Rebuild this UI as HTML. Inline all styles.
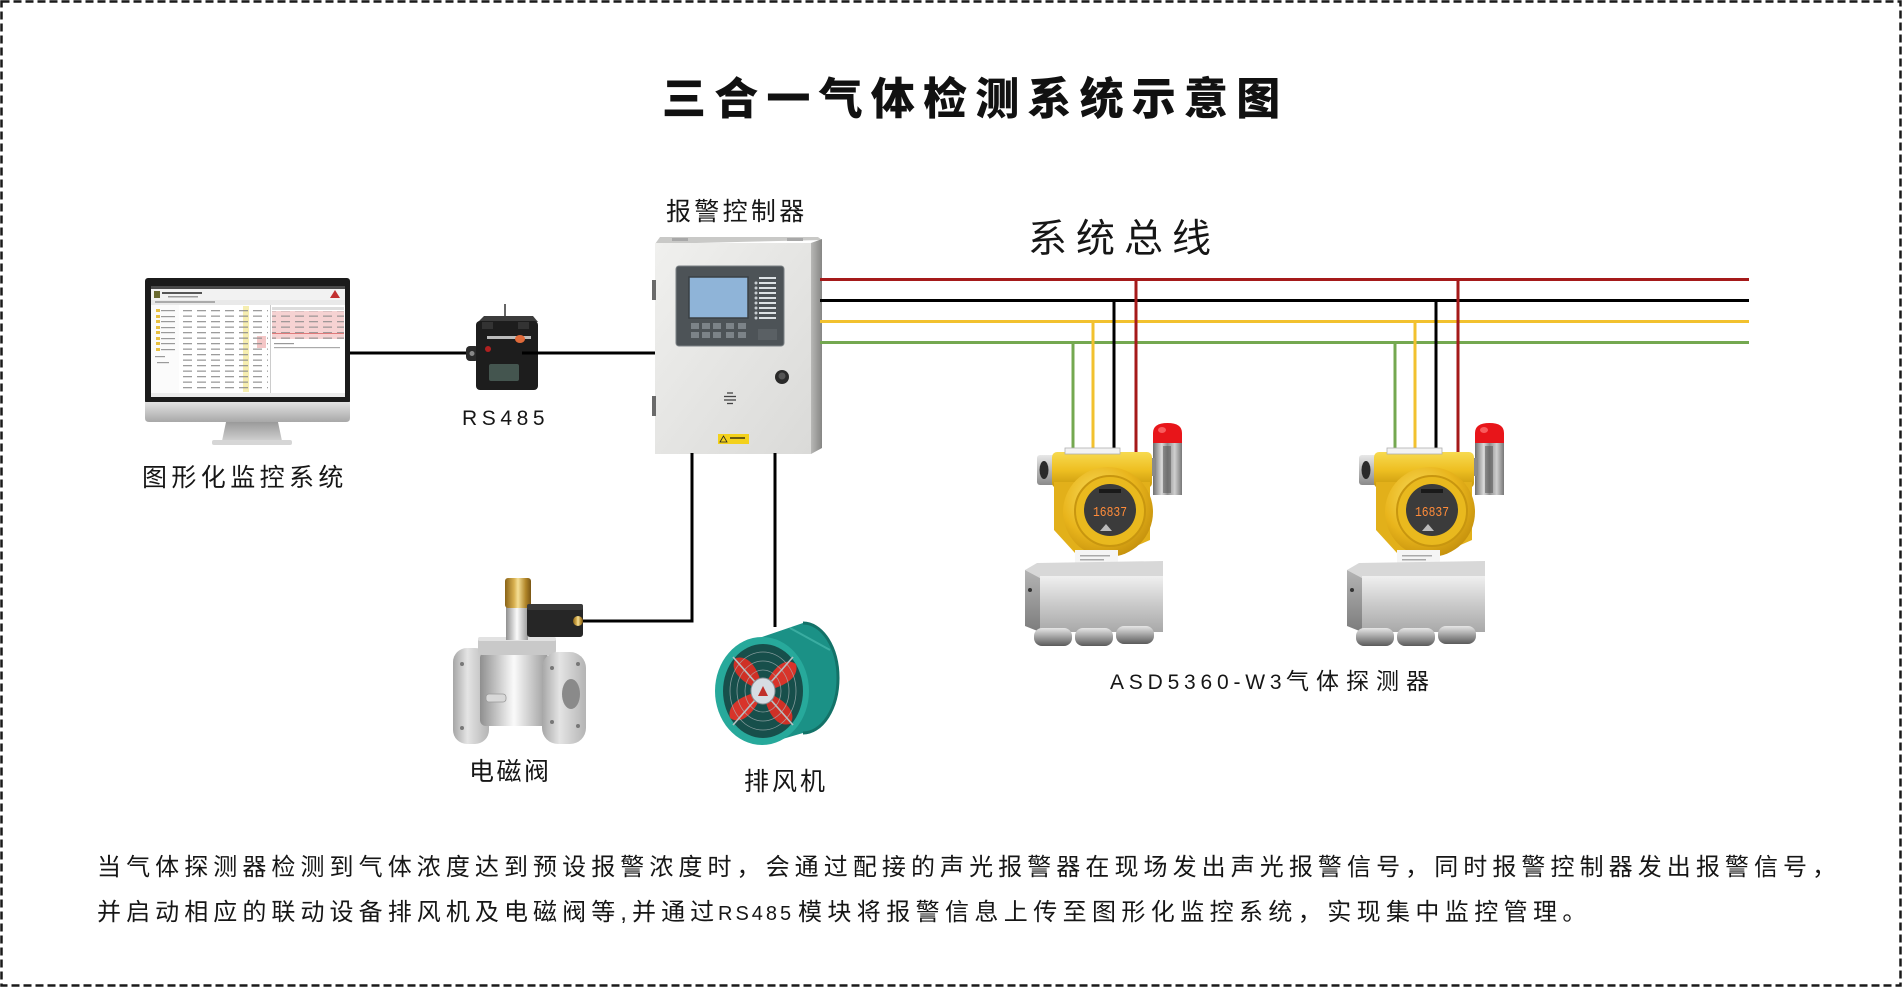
<!DOCTYPE html>
<html lang="zh">
<head>
<meta charset="utf-8">
<title>三合一气体检测系统示意图</title>
<style>
  html,body{margin:0;padding:0;background:#fff;}
  body{width:1904px;height:990px;overflow:hidden;}
  svg{display:block;}
  .cn{font-family:"Liberation Sans","Noto Sans CJK SC",sans-serif;fill:#161616;}
</style>
</head>
<body>
<svg width="1904" height="990" viewBox="0 0 1904 990" xmlns="http://www.w3.org/2000/svg">
<defs>
  <linearGradient id="gYel" x1="0" y1="0" x2="0" y2="1">
    <stop offset="0" stop-color="#f7da50"/><stop offset="0.5" stop-color="#eebf22"/><stop offset="1" stop-color="#c7970c"/>
  </linearGradient>
  <radialGradient id="gYelR" cx="0.4" cy="0.35" r="0.7">
    <stop offset="0" stop-color="#f9df62"/><stop offset="0.6" stop-color="#e9b51c"/><stop offset="1" stop-color="#c38f0c"/>
  </radialGradient>
  <linearGradient id="gPost" x1="0" y1="0" x2="1" y2="0">
    <stop offset="0" stop-color="#6f6f6f"/><stop offset="0.3" stop-color="#dadada"/><stop offset="0.5" stop-color="#8e8e8e"/><stop offset="0.75" stop-color="#cfcfcf"/><stop offset="1" stop-color="#777"/>
  </linearGradient>
  <linearGradient id="gBox" x1="0" y1="0" x2="0" y2="1">
    <stop offset="0" stop-color="#f0f0f0"/><stop offset="0.45" stop-color="#cecece"/><stop offset="1" stop-color="#a8a8a8"/>
  </linearGradient>
  <linearGradient id="gSide" x1="0" y1="0" x2="0" y2="1">
    <stop offset="0" stop-color="#b4b4b4"/><stop offset="1" stop-color="#7c7c7c"/>
  </linearGradient>
  <linearGradient id="gGland" x1="0" y1="0" x2="0" y2="1">
    <stop offset="0" stop-color="#e6e6e6"/><stop offset="0.5" stop-color="#a0a0a0"/><stop offset="1" stop-color="#5a5a5a"/>
  </linearGradient>
  <linearGradient id="gSilver" x1="0" y1="0" x2="1" y2="0">
    <stop offset="0" stop-color="#8f8f8f"/><stop offset="0.4" stop-color="#e6e6e6"/><stop offset="0.5" stop-color="#fafafa"/><stop offset="1" stop-color="#9a9a9a"/>
  </linearGradient>
  <linearGradient id="gSilverV" x1="0" y1="0" x2="0" y2="1">
    <stop offset="0" stop-color="#e8e8e8"/><stop offset="1" stop-color="#8a8a8a"/>
  </linearGradient>
  <linearGradient id="gGold" x1="0" y1="0" x2="1" y2="0">
    <stop offset="0" stop-color="#8a6418"/><stop offset="0.35" stop-color="#d8b050"/><stop offset="0.5" stop-color="#f5df96"/><stop offset="0.8" stop-color="#b08428"/><stop offset="1" stop-color="#7a5614"/>
  </linearGradient>
  <linearGradient id="gChin" x1="0" y1="0" x2="0" y2="1">
    <stop offset="0" stop-color="#e2e2e2"/><stop offset="1" stop-color="#a8a8a8"/>
  </linearGradient>
  <linearGradient id="gNeck" x1="0" y1="0" x2="0" y2="1">
    <stop offset="0" stop-color="#9a9a9a"/><stop offset="1" stop-color="#d0d0d0"/>
  </linearGradient>
  <linearGradient id="gCtrl" x1="0" y1="0" x2="1" y2="1">
    <stop offset="0" stop-color="#f0f0ee"/><stop offset="1" stop-color="#dadad8"/>
  </linearGradient>
  <linearGradient id="gCtrlSide" x1="0" y1="0" x2="1" y2="0">
    <stop offset="0" stop-color="#b8b8b6"/><stop offset="1" stop-color="#868684"/>
  </linearGradient>
  <linearGradient id="gFlange" x1="0" y1="0" x2="1" y2="0">
    <stop offset="0" stop-color="#a6a6a6"/><stop offset="0.4" stop-color="#e4e4e4"/><stop offset="1" stop-color="#b4b4b4"/>
  </linearGradient>
  <pattern id="tbl" width="14" height="5.5" patternUnits="userSpaceOnUse">
    <rect x="1" y="2" width="9" height="1.3" fill="#8a8a8a"/>
  </pattern>
</defs>

<rect width="1904" height="990" fill="#ffffff"/>
<rect x="1.5" y="1.5" width="1899" height="984" fill="none" stroke="#1a1a1a" stroke-width="2.5" stroke-dasharray="8 4"/>

<!-- Title -->
<text x="662" y="114" font-size="44" font-weight="900" letter-spacing="8.2" font-family="'Noto Sans CJK SC','Liberation Sans',sans-serif" fill="#111">三合一气体检测系统示意图</text>

<!-- Labels -->
<text class="cn" x="666" y="220" font-size="25" letter-spacing="3.3">报警控制器</text>
<text class="cn" x="1028" y="252" font-size="39" letter-spacing="9">系统总线</text>
<text class="cn" x="142" y="486" font-size="25" letter-spacing="4.4">图形化监控系统</text>
<text x="462" y="425" font-size="21" letter-spacing="4.6" font-family="'Liberation Sans',sans-serif" fill="#161616">RS485</text>
<text class="cn" x="469" y="780" font-size="25" letter-spacing="2.5">电磁阀</text>
<text class="cn" x="744" y="790" font-size="25" letter-spacing="3">排风机</text>
<text class="cn" y="689" font-size="21"><tspan x="1110" letter-spacing="4.8" font-family="'Liberation Sans',sans-serif">ASD5360-W3</tspan><tspan x="1286" font-size="23" letter-spacing="7">气体探测器</tspan></text>

<!-- Paragraph -->
<text class="cn" x="97" y="875" font-size="24" letter-spacing="5.07">当气体探测器检测到气体浓度达到预设报警浓度时，会通过配接的声光报警器在现场发出声光报警信号，同时报警控制器发出报警信号，</text>
<text class="cn" y="920" font-size="24"><tspan x="97" letter-spacing="5.07">并启动相应的联动设备排风机及电磁阀等,并通过</tspan><tspan x="718" font-size="20" letter-spacing="3">RS485</tspan><tspan x="798" letter-spacing="5.4">模块将报警信息上传至图形化监控系统，实现集中监控管理。</tspan></text>

<!-- ================= Monitor ================= -->
<rect x="145" y="278" width="205" height="126" rx="3" fill="#1b1b1b"/>
<rect x="151" y="286" width="194" height="111" fill="#ffffff"/>
<rect x="151" y="286" width="194" height="3" fill="#4a4a4a"/>
<rect x="151" y="289" width="194" height="11" fill="#f2f2f2"/>
<rect x="154" y="291" width="6" height="7" fill="#6a6a30"/>
<rect x="162" y="292" width="40" height="2" fill="#555"/>
<rect x="168" y="296" width="30" height="1.5" fill="#999"/>
<path d="M330,298 L335,290 L340,298 Z" fill="#c23030"/>
<rect x="151" y="300" width="194" height="5" fill="#e9e9e9"/>
<rect x="155" y="301" width="60" height="2" fill="#aaa"/>
<rect x="151" y="305" width="28" height="88" fill="#fbfbfb"/>
<g fill="#e8c040">
  <rect x="156" y="309" width="4" height="3"/><rect x="156" y="315" width="4" height="3"/><rect x="156" y="320" width="4" height="3"/>
  <rect x="156" y="326" width="4" height="3"/><rect x="156" y="331" width="4" height="3"/><rect x="156" y="337" width="4" height="3"/>
  <rect x="156" y="342" width="4" height="3"/><rect x="156" y="348" width="4" height="3"/>
</g>
<g fill="#9a9a9a">
  <rect x="161" y="310" width="14" height="1.2"/><rect x="161" y="316" width="14" height="1.2"/><rect x="161" y="321" width="14" height="1.2"/>
  <rect x="161" y="327" width="14" height="1.2"/><rect x="161" y="332" width="14" height="1.2"/><rect x="161" y="338" width="14" height="1.2"/>
  <rect x="161" y="343" width="14" height="1.2"/><rect x="161" y="349" width="14" height="1.2"/><rect x="155" y="356" width="10" height="1.2"/><rect x="157" y="362" width="12" height="1.2"/>
</g>
<rect x="243" y="306" width="6" height="86" fill="#f6eeb0"/>
<rect x="257" y="336" width="9" height="12" fill="#f4c6c6"/>
<rect x="182" y="306" width="86" height="86" fill="url(#tbl)" opacity="0.85"/>
<rect x="270" y="305" width="1" height="88" fill="#cccccc"/>
<rect x="272" y="307" width="72" height="3" fill="#dddddd"/>
<rect x="272" y="311" width="72" height="28" fill="#f6d2d2"/>
<rect x="272" y="311" width="72" height="28" fill="url(#tbl)" opacity="0.8"/>
<rect x="272" y="333" width="72" height="1" fill="#e07a7a"/>
<rect x="274" y="343" width="20" height="1.2" fill="#999"/>
<rect x="274" y="347" width="66" height="1.2" fill="#aaa"/>
<rect x="151" y="393" width="194" height="4" fill="#ececec"/>
<path d="M145,402 L350,402 L350,418 Q350,422 346,422 L149,422 Q145,422 145,418 Z" fill="url(#gChin)"/>
<path d="M226,422 L278,422 L282,441 L222,441 Z" fill="url(#gNeck)"/>
<rect x="212" y="440" width="80" height="5" rx="2" fill="#d6d6d6"/>

<!-- connecting line monitor -> RS485 -> controller -->
<line x1="350" y1="353" x2="470" y2="353" stroke="#000" stroke-width="3"/>

<!-- ================= RS485 module ================= -->
<line x1="505" y1="304" x2="505" y2="320" stroke="#666" stroke-width="2"/>
<rect x="466" y="346" width="13" height="15" rx="4" fill="#2a2a2a"/>
<circle cx="472" cy="353.5" r="2.5" fill="#888"/>
<path d="M478,322 L484,316 L533,316 L538,322 Z" fill="#3c3c3c"/>
<rect x="476" y="321" width="62" height="69" rx="4" fill="#1d1d1d"/>
<rect x="482" y="322" width="11" height="7" fill="#333"/>
<rect x="518" y="322" width="11" height="7" fill="#333"/>
<rect x="487" y="336" width="44" height="3" fill="#bbbbbb"/>
<ellipse cx="520" cy="339" rx="5" ry="4" fill="#e06a3a"/>
<circle cx="488" cy="349" r="3" fill="#b02020"/>
<rect x="489" y="364" width="30" height="17" rx="2" fill="#44554f"/>
<line x1="522" y1="353" x2="655" y2="353" stroke="#000" stroke-width="3"/>

<!-- ================= Controller ================= -->
<path d="M660,237 L818,237 L822,240 L655,244 Z" fill="#c9c9c7"/>
<rect x="672" y="238" width="16" height="3" fill="#a8a8a8"/>
<rect x="787" y="238" width="16" height="3" fill="#a8a8a8"/>
<rect x="655" y="243" width="156" height="211" fill="url(#gCtrl)"/>
<path d="M811,243 L822,239 L822,448 L811,454 Z" fill="url(#gCtrlSide)"/>
<rect x="652" y="280" width="4" height="20" fill="#6a6a6a"/>
<rect x="652" y="396" width="4" height="20" fill="#6a6a6a"/>
<rect x="676" y="266" width="108" height="80" rx="3" fill="#4d5357" stroke="#7a8084" stroke-width="1"/>
<rect x="689" y="277" width="59" height="41" fill="#8fb4d8" stroke="#3a4044" stroke-width="1.5"/>
<g fill="#7c8388">
  <rect x="691" y="323" width="8" height="6"/><rect x="702" y="323" width="8" height="6"/><rect x="713" y="323" width="8" height="6"/><rect x="726" y="323" width="8" height="6"/><rect x="738" y="323" width="8" height="6"/>
  <rect x="691" y="332" width="8" height="6"/><rect x="702" y="332" width="8" height="6"/><rect x="713" y="332" width="8" height="6"/><rect x="726" y="332" width="8" height="6"/><rect x="738" y="332" width="8" height="6"/>
</g>
<g fill="#dde2e5">
  <rect x="759" y="277" width="17" height="2"/><rect x="759" y="282" width="17" height="2"/><rect x="759" y="287" width="17" height="2"/>
  <rect x="759" y="292" width="17" height="2"/><rect x="759" y="297" width="17" height="2"/><rect x="759" y="302" width="17" height="2"/>
  <rect x="759" y="307" width="17" height="2"/><rect x="759" y="312" width="17" height="2"/><rect x="759" y="317" width="17" height="2"/>
</g>
<g fill="#c8ced2">
  <circle cx="756" cy="283" r="1.5"/><circle cx="756" cy="288" r="1.5"/><circle cx="756" cy="293" r="1.5"/><circle cx="756" cy="298" r="1.5"/><circle cx="756" cy="303" r="1.5"/><circle cx="756" cy="308" r="1.5"/><circle cx="756" cy="313" r="1.5"/><circle cx="756" cy="318" r="1.5"/>
</g>
<rect x="758" y="329" width="19" height="11" fill="#5a6064"/>
<circle cx="782" cy="377" r="7" fill="#2a2a2a"/>
<circle cx="782" cy="376" r="3.5" fill="#555"/>
<g stroke="#444" stroke-width="1.3">
  <line x1="727" y1="393" x2="733" y2="393"/><line x1="724" y1="396.5" x2="736" y2="396.5"/><line x1="724" y1="400" x2="736" y2="400"/><line x1="727" y1="403.5" x2="733" y2="403.5"/>
</g>
<rect x="718" y="434" width="31" height="10" fill="#f3d11c"/>
<path d="M720,442 L723.5,436 L727,442 Z" fill="none" stroke="#222" stroke-width="0.8"/>
<rect x="730" y="437" width="15" height="2" fill="#6a5a10"/>

<!-- lines down from controller -->
<polyline points="692,453 692,621 583,621" fill="none" stroke="#000" stroke-width="3"/>
<line x1="775" y1="453" x2="775" y2="627" stroke="#000" stroke-width="3"/>

<!-- ================= Bus lines ================= -->
<line x1="820" y1="279.5" x2="1749" y2="279.5" stroke="#a51a1a" stroke-width="3"/>
<line x1="820" y1="300.5" x2="1749" y2="300.5" stroke="#000000" stroke-width="3"/>
<line x1="820" y1="321.5" x2="1749" y2="321.5" stroke="#f2c12e" stroke-width="3"/>
<line x1="820" y1="342.5" x2="1749" y2="342.5" stroke="#74a850" stroke-width="3"/>

<!-- drops detector 1 -->
<line x1="1073" y1="342" x2="1073" y2="452" stroke="#74a850" stroke-width="3"/>
<line x1="1093" y1="321" x2="1093" y2="452" stroke="#f2c12e" stroke-width="3"/>
<line x1="1114" y1="300" x2="1114" y2="452" stroke="#000" stroke-width="3"/>
<line x1="1136" y1="279" x2="1136" y2="452" stroke="#a51a1a" stroke-width="3"/>
<!-- drops detector 2 -->
<line x1="1395" y1="342" x2="1395" y2="452" stroke="#74a850" stroke-width="3"/>
<line x1="1415" y1="321" x2="1415" y2="452" stroke="#f2c12e" stroke-width="3"/>
<line x1="1436" y1="300" x2="1436" y2="452" stroke="#000" stroke-width="3"/>
<line x1="1458" y1="279" x2="1458" y2="452" stroke="#a51a1a" stroke-width="3"/>

<!-- ================= Detector 1 ================= -->
<g>
  <rect x="1153" y="440" width="29" height="55" fill="url(#gPost)"/>
  <rect x="1163" y="446" width="8" height="47" fill="#555" opacity="0.55"/>
  <path d="M1153,443 L1153,433 Q1153,423 1167.5,423 Q1182,423 1182,433 L1182,443 Z" fill="#e8151a"/>
  <ellipse cx="1162" cy="430" rx="4" ry="3" fill="#ff7a7a" opacity="0.7"/>
  <rect x="1145" y="458" width="11" height="18" fill="#8a8a8a"/>
  <rect x="1037" y="455" width="18" height="30" rx="3" fill="url(#gSilverV)"/>
  <ellipse cx="1044" cy="470" rx="4.5" ry="9" fill="#2a2a2a"/>
  <rect x="1052" y="452" width="100" height="36" rx="5" fill="url(#gYel)"/>
  <rect x="1065" y="448" width="55" height="6" fill="#f3f3f3" stroke="#b0b0b0" stroke-width="0.8"/>
  <path d="M1054,482 L1150,482 L1150,540 L1120,553 L1075,553 L1054,530 Z" fill="#e2b01a"/>
  <circle cx="1108" cy="512" r="45" fill="url(#gYelR)"/>
  <circle cx="1110" cy="511" r="35" fill="#e9b91e" stroke="#c8960f" stroke-width="2"/>
  <circle cx="1110" cy="510" r="26" fill="#3b3b3b"/>
  <rect x="1099" y="489" width="22" height="4" fill="#1a1a1a"/>
  <text x="1093" y="516" font-size="14" fill="#ff8c3a" font-family="'Liberation Mono',monospace" textLength="34" lengthAdjust="spacingAndGlyphs">16837</text>
  <path d="M1100,531 L1106,524 L1112,531 Z" fill="#bbb"/>
  <rect x="1075" y="550" width="43" height="16" fill="#f5f5f5"/>
  <rect x="1080" y="555" width="30" height="1.5" fill="#aaa"/>
  <rect x="1080" y="559" width="24" height="1.5" fill="#aaa"/>
  <rect x="1078" y="565" width="38" height="9" fill="url(#gSilver)"/>
  <path d="M1025,570 L1037,563 L1163,561 L1163,576 L1040,578 Z" fill="#d8d8d8"/>
  <path d="M1025,570 L1040,578 L1040,632 L1025,626 Z" fill="url(#gSide)"/>
  <rect x="1040" y="576" width="123" height="56" fill="url(#gBox)"/>
  <circle cx="1030" cy="590" r="2" fill="#333"/>
  <rect x="1034" y="628" width="38" height="18" rx="8" fill="url(#gGland)"/>
  <rect x="1075" y="628" width="38" height="18" rx="8" fill="url(#gGland)"/>
  <rect x="1116" y="626" width="38" height="18" rx="8" fill="url(#gGland)"/>
</g>

<!-- ================= Detector 2 ================= -->
<g transform="translate(322,0)">
  <rect x="1153" y="440" width="29" height="55" fill="url(#gPost)"/>
  <rect x="1163" y="446" width="8" height="47" fill="#555" opacity="0.55"/>
  <path d="M1153,443 L1153,433 Q1153,423 1167.5,423 Q1182,423 1182,433 L1182,443 Z" fill="#e8151a"/>
  <ellipse cx="1162" cy="430" rx="4" ry="3" fill="#ff7a7a" opacity="0.7"/>
  <rect x="1145" y="458" width="11" height="18" fill="#8a8a8a"/>
  <rect x="1037" y="455" width="18" height="30" rx="3" fill="url(#gSilverV)"/>
  <ellipse cx="1044" cy="470" rx="4.5" ry="9" fill="#2a2a2a"/>
  <rect x="1052" y="452" width="100" height="36" rx="5" fill="url(#gYel)"/>
  <rect x="1065" y="448" width="55" height="6" fill="#f3f3f3" stroke="#b0b0b0" stroke-width="0.8"/>
  <path d="M1054,482 L1150,482 L1150,540 L1120,553 L1075,553 L1054,530 Z" fill="#e2b01a"/>
  <circle cx="1108" cy="512" r="45" fill="url(#gYelR)"/>
  <circle cx="1110" cy="511" r="35" fill="#e9b91e" stroke="#c8960f" stroke-width="2"/>
  <circle cx="1110" cy="510" r="26" fill="#3b3b3b"/>
  <rect x="1099" y="489" width="22" height="4" fill="#1a1a1a"/>
  <text x="1093" y="516" font-size="14" fill="#ff8c3a" font-family="'Liberation Mono',monospace" textLength="34" lengthAdjust="spacingAndGlyphs">16837</text>
  <path d="M1100,531 L1106,524 L1112,531 Z" fill="#bbb"/>
  <rect x="1075" y="550" width="43" height="16" fill="#f5f5f5"/>
  <rect x="1080" y="555" width="30" height="1.5" fill="#aaa"/>
  <rect x="1080" y="559" width="24" height="1.5" fill="#aaa"/>
  <rect x="1078" y="565" width="38" height="9" fill="url(#gSilver)"/>
  <path d="M1025,570 L1037,563 L1163,561 L1163,576 L1040,578 Z" fill="#d8d8d8"/>
  <path d="M1025,570 L1040,578 L1040,632 L1025,626 Z" fill="url(#gSide)"/>
  <rect x="1040" y="576" width="123" height="56" fill="url(#gBox)"/>
  <circle cx="1030" cy="590" r="2" fill="#333"/>
  <rect x="1034" y="628" width="38" height="18" rx="8" fill="url(#gGland)"/>
  <rect x="1075" y="628" width="38" height="18" rx="8" fill="url(#gGland)"/>
  <rect x="1116" y="626" width="38" height="18" rx="8" fill="url(#gGland)"/>
</g>

<!-- ================= Solenoid valve ================= -->
<g>
  <rect x="453" y="648" width="36" height="96" rx="14" fill="url(#gFlange)"/>
  <circle cx="462" cy="664" r="2" fill="#777"/><circle cx="462" cy="728" r="2" fill="#777"/>
  <rect x="480" y="652" width="68" height="74" rx="6" fill="url(#gSilver)"/>
  <rect x="486" y="694" width="20" height="8" rx="3" fill="#d8d8d8" stroke="#999" stroke-width="0.8"/>
  <rect x="478" y="637" width="78" height="18" rx="4" fill="#c9c9c9"/>
  <rect x="478" y="637" width="78" height="4" rx="2" fill="#e2e2e2"/>
  <rect x="542" y="652" width="44" height="92" rx="16" fill="url(#gFlange)"/>
  <ellipse cx="571" cy="694" rx="9" ry="15" fill="#8a8a8a"/>
  <circle cx="552" cy="668" r="2" fill="#777"/><circle cx="578" cy="664" r="2" fill="#777"/>
  <circle cx="552" cy="722" r="2" fill="#777"/><circle cx="578" cy="726" r="2" fill="#777"/>
  <rect x="506" y="606" width="22" height="34" fill="url(#gSilver)"/>
  <rect x="505" y="578" width="26" height="30" rx="3" fill="url(#gGold)"/>
  <rect x="527" y="604" width="56" height="33" rx="3" fill="#262626"/>
  <rect x="527" y="604" width="56" height="6" rx="2" fill="#3a3a3a"/>
  <circle cx="578" cy="621" r="5" fill="url(#gGold)"/>
</g>

<!-- ================= Fan ================= -->
<g>
  <path d="M762,637 L803,623 A35,55 0 0 1 803,733 L762,745 Z" fill="#1b9186"/>
  <path d="M803,623 A35,55 0 0 1 803,733" fill="none" stroke="#137268" stroke-width="3"/>
  <path d="M790,628 L830,650" stroke="#4fc0b4" stroke-width="2" opacity="0.6"/>
  <ellipse cx="762" cy="691" rx="47" ry="54" fill="#27a99b"/>
  <ellipse cx="763" cy="691" rx="40" ry="47" fill="#174f4b"/>
  <g transform="translate(763,691)">
    <path d="M0,0 C6,-18 20,-36 33,-27 C37,-12 18,-3 0,0 Z" fill="#d8342a"/>
    <path d="M0,0 C6,-18 20,-36 33,-27 C37,-12 18,-3 0,0 Z" fill="#cf3026" transform="rotate(90)"/>
    <path d="M0,0 C6,-18 20,-36 33,-27 C37,-12 18,-3 0,0 Z" fill="#d8342a" transform="rotate(180)"/>
    <path d="M0,0 C6,-18 20,-36 33,-27 C37,-12 18,-3 0,0 Z" fill="#cf3026" transform="rotate(270)"/>
  </g>
  <g fill="none" stroke="#a9b4b6" stroke-width="0.8" opacity="0.75">
    <ellipse cx="763" cy="691" rx="18" ry="21"/>
    <ellipse cx="763" cy="691" rx="26" ry="30"/>
    <ellipse cx="763" cy="691" rx="33" ry="39"/>
  </g>
  <line x1="733" y1="657" x2="793" y2="725" stroke="#b8c0c2" stroke-width="1.6"/>
  <line x1="793" y1="657" x2="733" y2="725" stroke="#b8c0c2" stroke-width="1.6"/>
  <ellipse cx="763" cy="691" rx="12" ry="13" fill="#d6dde3" stroke="#8a949a" stroke-width="1"/>
  <path d="M758,696 L763,686 L768,696 Z" fill="#c0302a"/>
</g>

</svg>
</body>
</html>
